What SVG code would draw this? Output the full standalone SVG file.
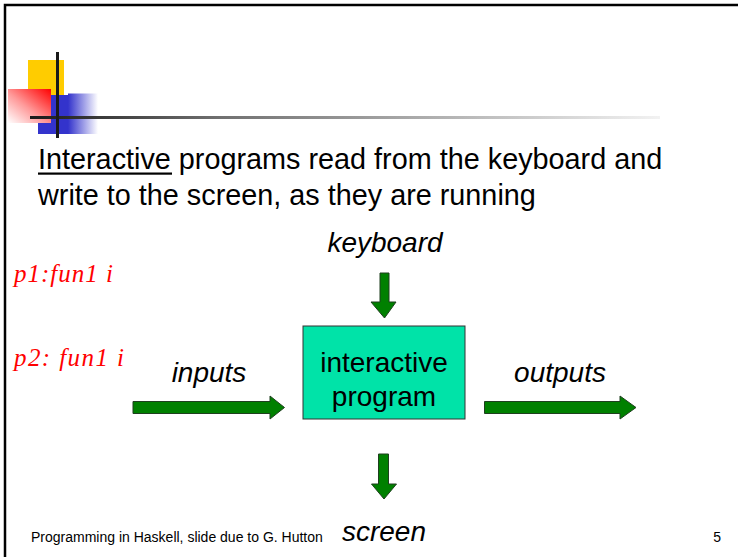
<svg xmlns="http://www.w3.org/2000/svg" width="738" height="557" viewBox="0 0 738 557">
<defs>
<linearGradient id="redg" x1="1" y1="0" x2="0" y2="1">
<stop offset="0" stop-color="#ff0000"/>
<stop offset="0.55" stop-color="#ff9a9a"/>
<stop offset="1" stop-color="#ffffff"/>
</linearGradient>
<linearGradient id="blueg" x1="0" y1="0" x2="1" y2="0">
<stop offset="0" stop-color="#3333cc"/>
<stop offset="1" stop-color="#ffffff"/>
</linearGradient>
<linearGradient id="lineg" x1="0" y1="0" x2="1" y2="0">
<stop offset="0" stop-color="#1a1a1a"/>
<stop offset="0.3" stop-color="#707070"/>
<stop offset="1" stop-color="#f2f2f2"/>
</linearGradient>
<style>
.t{font-family:"Liberation Sans",Arial,sans-serif;fill:#000}
.h{font-size:28.8px}
.lbl{font-size:28px;font-style:italic}
.box{fill:#00e3a8;stroke:#333;stroke-width:1}
.arr{fill:#008000;stroke:#1f3f1f;stroke-width:1}
.hw{font-family:"Liberation Serif",serif;font-style:italic;font-size:25px;fill:#ff0000}
.foot{font-size:14px}
</style>
</defs>
<rect x="0" y="0" width="738" height="557" fill="#fff"/>
<!-- slide border -->
<path d="M5 557 V5 H738" fill="none" stroke="#000" stroke-width="2.5"/>
<!-- decoration -->
<g id="decoration">
<rect x="28" y="60" width="36" height="35" fill="#ffcc00"/>
<rect x="38" y="95" width="30" height="39" fill="#3333cc"/>
<rect x="68" y="93.5" width="30" height="40.5" fill="url(#blueg)"/>
<rect x="8" y="89" width="43" height="34" fill="url(#redg)"/>
<rect x="30" y="116" width="630" height="3" fill="url(#lineg)"/>
<rect x="56" y="52" width="3" height="86" fill="#1a1a1a"/>
</g>
<!-- heading -->
<g id="heading">
<text class="t h" x="38" y="169">Interactive programs read from the keyboard and</text>
<text class="t h" x="38" y="205">write to the screen, as they are running</text>
<rect x="38" y="172.5" width="134" height="2.2" fill="#000"/>
</g>
<!-- handwritten notes -->
<g id="notes">
<text class="hw" x="14" y="282" textLength="99" lengthAdjust="spacing">p1:fun1  i</text>
<text class="hw" x="14" y="366" textLength="110" lengthAdjust="spacing">p2: fun1 i</text>
</g>
<!-- nodes -->
<g id="keyboard">
<text class="t lbl" x="385" y="252" text-anchor="middle">keyboard</text>
</g>
<g id="program">
<rect class="box" x="303" y="326" width="162" height="93"/>
<text class="t" x="384" y="372" text-anchor="middle" font-size="28">interactive</text>
<text class="t" x="384" y="406" text-anchor="middle" font-size="28">program</text>
</g>
<g id="inputs">
<text class="t lbl" x="209" y="382" text-anchor="middle">inputs</text>
</g>
<g id="outputs">
<text class="t lbl" x="560" y="382" text-anchor="middle">outputs</text>
</g>
<g id="screen">
<text class="t lbl" x="384" y="541" text-anchor="middle">screen</text>
</g>
<!-- connectors -->
<g id="connectors">
<polygon class="arr" points="380,273 389,273 389,302 396,302 384.5,318 371,302 380,302"/>
<polygon class="arr" points="378.5,454 388.5,454 388.5,484 396.5,484 384,499 371.5,484 378.5,484"/>
<polygon class="arr" points="133,401.5 270,401.5 270,396 284.5,407.5 270,419 270,413.5 133,413.5"/>
<polygon class="arr" points="484.5,401.5 620,401.5 620,396 636,407.5 620,419 620,413.5 484.5,413.5"/>
</g>
<!-- footer -->
<g id="footer">
<text class="t foot" x="31" y="542">Programming in Haskell, slide due to G. Hutton</text>
<text class="t foot" x="721" y="542" text-anchor="end">5</text>
</g>
</svg>
